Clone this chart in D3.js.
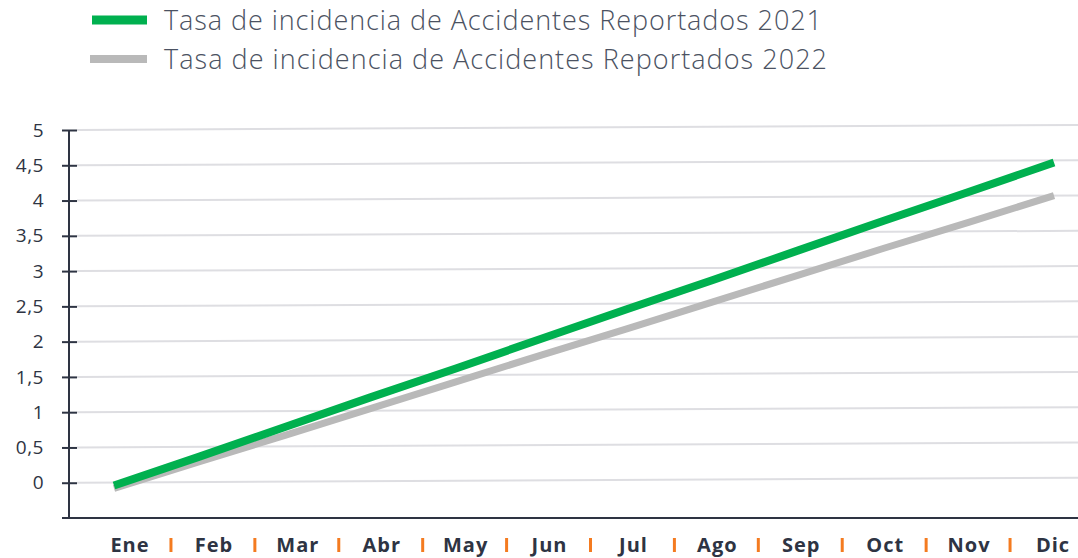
<!DOCTYPE html>
<html>
<head>
<meta charset="utf-8">
<script src="https://cdn.jsdelivr.net/npm/d3@7"></script>
<style>
  html, body { margin: 0; padding: 0; background: #ffffff; }
  svg { display: block; }
</style>
</head>
<body>
<svg id="chart" width="1078" height="558"></svg>
<script>
// ---- data ----
const months = ["Ene","Feb","Mar","Abr","May","Jun","Jul","Ago","Sep","Oct","Nov","Dic"];
const seriesNames = [
  "Tasa de incidencia de Accidentes Reportados 2021",
  "Tasa de incidencia de Accidentes Reportados 2022"
];
const values2021 = [-0.04, 0.37, 0.79, 1.21, 1.62, 2.04, 2.46, 2.87, 3.29, 3.71, 4.12, 4.54];
const values2022 = [-0.08, 0.30, 0.67, 1.05, 1.43, 1.81, 2.18, 2.56, 2.94, 3.32, 3.69, 4.07];
const yTicks = [0, 0.5, 1, 1.5, 2, 2.5, 3, 3.5, 4, 4.5, 5];
const yTickLabels = ["0", "0,5", "1", "1,5", "2", "2,5", "3", "3,5", "4", "4,5", "5"];

// ---- styles ----
const colors = ["#00b04f", "#b9b9b9"];
const widths = [8, 7];
const axisColor = "#2e3443";
const gridColor = "#dedee2";
const sepColor = "#f47b20";

const svg = d3.select("#chart");

const y = d3.scaleLinear().domain([-0.5, 5]).range([518, 130]);
const xLine = d3.scalePoint().domain(months).range([114, 1054]);
const xLab = d3.scalePoint().domain(months).range([130, 1053]);

const axisX = 69, gridX0 = 77, gridX1 = 1078, gridRise = 5;

// gridlines (slightly tilted as in reference)
svg.append("g").selectAll("line").data(yTicks).join("line")
  .attr("x1", gridX0).attr("x2", gridX1)
  .attr("y1", d => y(d)).attr("y2", d => y(d) - gridRise)
  .attr("stroke", gridColor).attr("stroke-width", 2);

// y axis
const yAxis = d3.axisLeft(y).tickValues(yTicks)
  .tickFormat((d, i) => yTickLabels[i])
  .tickSize(0).tickPadding(25);
const gy = svg.append("g").attr("transform", `translate(${axisX},0)`).call(yAxis);
gy.select(".domain").remove();
gy.selectAll("text")
  .attr("fill", axisColor)
  .style("font-family", "'Open Sans', sans-serif")
  .style("font-size", "19px")
  .style("letter-spacing", "0.5px");
// tick marks
gy.selectAll(".tick").append("line")
  .attr("x1", -7).attr("x2", 8).attr("y1", 0).attr("y2", 0)
  .attr("stroke", axisColor).attr("stroke-width", 2);

svg.append("line")
  .attr("x1", axisX).attr("x2", axisX)
  .attr("y1", y(5)).attr("y2", y(-0.5))
  .attr("stroke", axisColor).attr("stroke-width", 2);
svg.append("line")
  .attr("x1", 62).attr("x2", 1078)
  .attr("y1", y(-0.5)).attr("y2", y(-0.5))
  .attr("stroke", axisColor).attr("stroke-width", 2);

// x labels
svg.append("g").selectAll("text").data(months).join("text")
  .attr("x", d => xLab(d)).attr("y", 552)
  .attr("text-anchor", "middle")
  .attr("fill", axisColor)
  .style("font-family", "'Open Sans', sans-serif")
  .style("font-weight", 700)
  .style("font-size", "20px")
  .style("letter-spacing", "1px")
  .text(d => d);

// separators
const step = xLab.step();
svg.append("g").selectAll("line").data(months.slice(0, -1)).join("line")
  .attr("x1", d => xLab(d) + step / 2 - 1).attr("x2", d => xLab(d) + step / 2 - 1)
  .attr("y1", 538).attr("y2", 552)
  .attr("stroke", sepColor).attr("stroke-width", 3);

// series lines
const line = d3.line().x((d, i) => xLine(months[i])).y(d => y(d));
const series = [values2022, values2021];
const seriesIdx = [1, 0];
svg.append("g").selectAll("path").data(series).join("path")
  .attr("d", d => line(d))
  .attr("fill", "none")
  .attr("stroke", (d, i) => colors[seriesIdx[i]])
  .attr("stroke-width", (d, i) => widths[seriesIdx[i]])
  .attr("stroke-linecap", "butt");

// legend
const legY = [20, 59];
const legLen = [658, 663];
const lg = svg.append("g").selectAll("g").data(seriesNames).join("g");
lg.append("line")
  .attr("x1", (d, i) => i === 0 ? 92 : 90).attr("x2", 147)
  .attr("y1", (d, i) => legY[i]).attr("y2", (d, i) => legY[i])
  .attr("stroke", (d, i) => colors[i])
  .attr("stroke-width", (d, i) => i === 0 ? 9 : 8);
lg.append("text")
  .attr("x", 164).attr("y", (d, i) => legY[i] + 9.5)
  .attr("fill", "#4b5262")
  .attr("textLength", (d, i) => legLen[i])
  .attr("lengthAdjust", "spacing")
  .style("font-family", "'Open Sans', sans-serif")
  .style("font-weight", 300)
  .style("font-size", "27px")
  .text(d => d);
</script>
</body>
</html>
